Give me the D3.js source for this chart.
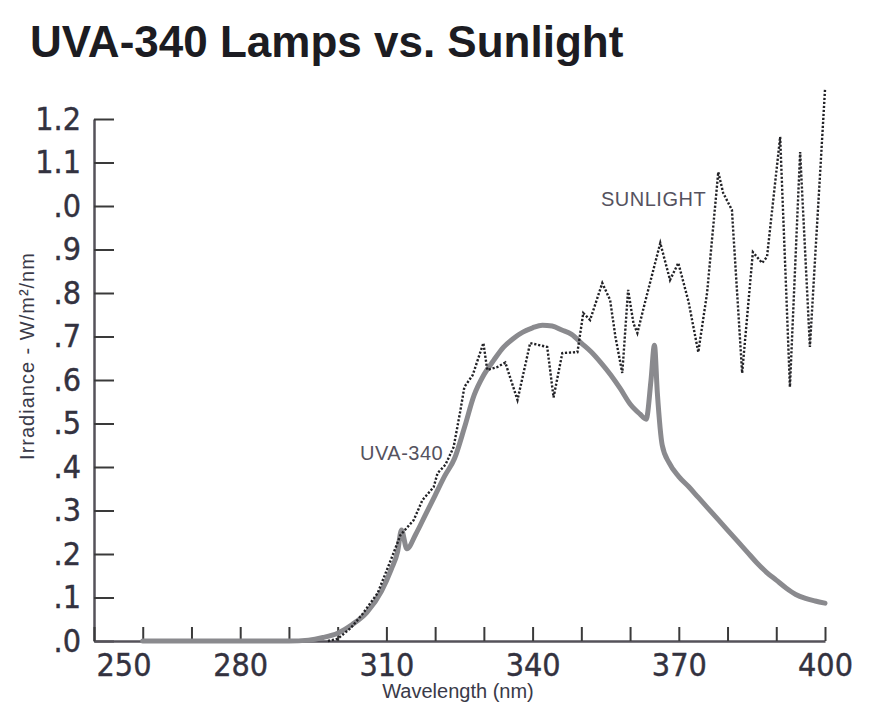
<!DOCTYPE html>
<html>
<head>
<meta charset="utf-8">
<script src="https://cdn.jsdelivr.net/npm/d3@7/dist/d3.min.js"></script>
<style>
  html, body { margin: 0; padding: 0; background: #ffffff; }
  svg { display: block; }
  .tick-label { font-family: "Liberation Sans Narrow", "Arial Narrow", "DejaVu Sans Condensed", sans-serif; }
</style>
</head>
<body>
<svg id="chart" width="880" height="713"></svg>
<script>
// Spectral irradiance, W/m²/nm, against wavelength in nm
const uvaWavelength = [260, 270, 280, 290, 294, 297, 300, 303, 306, 309, 311, 312.3, 313.1, 314.2, 316, 318, 320, 322, 324, 326, 328, 330, 332, 334, 336, 338, 340, 342, 344, 346, 348, 350, 352, 354, 356, 358, 360, 362, 363.3, 364.3, 365, 365.6, 366.6, 368, 370, 372, 374, 376, 378, 380, 382, 384, 386, 388, 390, 392, 394, 396, 398, 400];
const uvaIrradiance = [0, 0, 0, 0, 0.002, 0.008, 0.018, 0.038, 0.066, 0.115, 0.165, 0.205, 0.255, 0.212, 0.245, 0.29, 0.335, 0.38, 0.42, 0.49, 0.565, 0.612, 0.645, 0.675, 0.695, 0.71, 0.72, 0.726, 0.724, 0.715, 0.705, 0.685, 0.665, 0.64, 0.612, 0.58, 0.545, 0.522, 0.51, 0.6, 0.68, 0.57, 0.45, 0.41, 0.378, 0.355, 0.33, 0.305, 0.28, 0.255, 0.23, 0.205, 0.18, 0.158, 0.14, 0.122, 0.107, 0.098, 0.092, 0.087];

const sunWavelength = [298, 300, 302.7, 305.1, 308.2, 310.9, 312.9, 315.6, 317.4, 319.7, 320.5, 322.1, 323.8, 325.2, 326.0, 327.7, 329.9, 330.7, 332.8, 334.4, 336.9, 339.5, 343.0, 344.3, 346.1, 349.2, 350.4, 351.8, 354.3, 355.9, 357.0, 358.4, 359.6, 360.7, 361.5, 363.1, 366.2, 368.2, 369.9, 372.0, 374.0, 375.8, 378.1, 379.1, 380.9, 383.0, 385.2, 387.1, 388.1, 390.8, 392.8, 394.9, 396.9, 400.0];
const sunIrradiance = [0, 0.005, 0.03, 0.062, 0.11, 0.186, 0.244, 0.278, 0.324, 0.354, 0.386, 0.405, 0.446, 0.531, 0.584, 0.611, 0.685, 0.623, 0.63, 0.64, 0.554, 0.685, 0.676, 0.56, 0.662, 0.664, 0.754, 0.738, 0.823, 0.784, 0.699, 0.616, 0.807, 0.73, 0.708, 0.78, 0.915, 0.83, 0.869, 0.78, 0.664, 0.80, 1.078, 1.03, 0.991, 0.616, 0.894, 0.869, 0.883, 1.159, 0.584, 1.124, 0.676, 1.267];

// Axis ticks and their printed labels
const xTickValues = [250, 260, 270, 280, 290, 300, 310, 320, 330, 340, 350, 360, 370, 380, 390, 400];
const xLabelValues = [250, 280, 310, 340, 370, 400];
const yTickValues = [0, 0.1, 0.2, 0.3, 0.4, 0.5, 0.6, 0.7, 0.8, 0.9, 1.0, 1.1, 1.2];
const yTickLabels = [".0", ".1", ".2", ".3", ".4", ".5", ".6", ".7", ".8", ".9", ".0", "1.1", "1.2"];

const svg = d3.select("#chart");
svg.append("rect").attr("width", 880).attr("height", 713).attr("fill", "#ffffff");

const x = d3.scaleLinear().domain([250, 400]).range([94, 825]);
const y = d3.scaleLinear().domain([0, 1.2]).range([641, 119]);

// Title
svg.append("text")
  .attr("x", 30).attr("y", 57)
  .attr("font-family", "'Liberation Sans', Arial, sans-serif")
  .attr("font-weight", "bold")
  .attr("font-size", 44)
  .attr("fill", "#1c1c22")
  .text("UVA-340 Lamps vs. Sunlight");

// Y axis
const yAxis = d3.axisLeft(y)
  .tickValues(yTickValues)
  .tickFormat((d, i) => yTickLabels[i])
  .tickSizeInner(-20)
  .tickSizeOuter(0)
  .tickPadding(13);

const gy = svg.append("g").attr("transform", `translate(${x(250)},0)`).call(yAxis);
gy.select(".domain").attr("stroke", "#55525a").attr("stroke-width", 2.5);
gy.selectAll(".tick line").attr("stroke", "#3a3a3a").attr("stroke-width", 2);
gy.selectAll(".tick text")
  .attr("class", "tick-label")
  .attr("font-size", 32)
  .attr("fill", "#33323f")
  .attr("stroke", "#33323f")
  .attr("stroke-width", 0.4);

// X axis
const xAxis = d3.axisBottom(x)
  .tickValues(xTickValues)
  .tickFormat(d => xLabelValues.includes(d) ? String(d) : "")
  .tickSizeInner(-14)
  .tickSizeOuter(0)
  .tickPadding(12);

const gx = svg.append("g").attr("transform", `translate(0,${y(0)})`).call(xAxis);
gx.select(".domain").attr("stroke", "#55525a").attr("stroke-width", 2.5);
gx.selectAll(".tick line").attr("stroke", "#3a3a3a").attr("stroke-width", 2);
gx.selectAll(".tick text")
  .attr("class", "tick-label")
  .attr("font-size", 32)
  .attr("fill", "#33323f")
  .attr("stroke", "#33323f")
  .attr("stroke-width", 0.4);
// first label sits just right of the corner
gx.selectAll(".tick text").filter(d => d === 250).attr("text-anchor", "start").attr("x", 2);

// Axis titles
svg.append("text")
  .attr("x", 458).attr("y", 698)
  .attr("text-anchor", "middle")
  .attr("font-family", "'Liberation Sans', Arial, sans-serif")
  .attr("font-size", 20)
  .attr("fill", "#3a3a48")
  .text("Wavelength (nm)");

svg.append("text")
  .attr("transform", "translate(34,356) rotate(-90)")
  .attr("text-anchor", "middle")
  .attr("font-family", "'Liberation Sans', Arial, sans-serif")
  .attr("font-size", 20)
  .attr("letter-spacing", 1)
  .attr("fill", "#3a3a48")
  .text("Irradiance - W/m²/nm");

// Series
const uvaData = uvaWavelength.map((w, i) => [w, uvaIrradiance[i]]);
const sunData = sunWavelength.map((w, i) => [w, sunIrradiance[i]]);

const uvaLine = d3.line().x(d => x(d[0])).y(d => y(d[1])).curve(d3.curveMonotoneX);
const sunLine = d3.line().x(d => x(d[0])).y(d => y(d[1]));

svg.append("path")
  .datum(uvaData)
  .attr("d", uvaLine)
  .attr("fill", "none")
  .attr("stroke", "#8a8a8e")
  .attr("stroke-width", 5)
  .attr("stroke-linejoin", "round")
  .attr("stroke-linecap", "round");

svg.append("path")
  .datum(sunData)
  .attr("d", sunLine)
  .attr("fill", "none")
  .attr("stroke", "#222226")
  .attr("stroke-width", 2.4)
  .attr("stroke-dasharray", "2.2,1.8");

// Series labels
svg.append("text")
  .attr("x", 601).attr("y", 206)
  .attr("font-family", "'Liberation Sans', Arial, sans-serif")
  .attr("font-size", 20)
  .attr("letter-spacing", 0.5)
  .attr("fill", "#55525e")
  .text("SUNLIGHT");

svg.append("text")
  .attr("x", 360).attr("y", 460)
  .attr("font-family", "'Liberation Sans', Arial, sans-serif")
  .attr("font-size", 20)
  .attr("letter-spacing", 0.5)
  .attr("fill", "#55525e")
  .text("UVA-340");
</script>
</body>
</html>
